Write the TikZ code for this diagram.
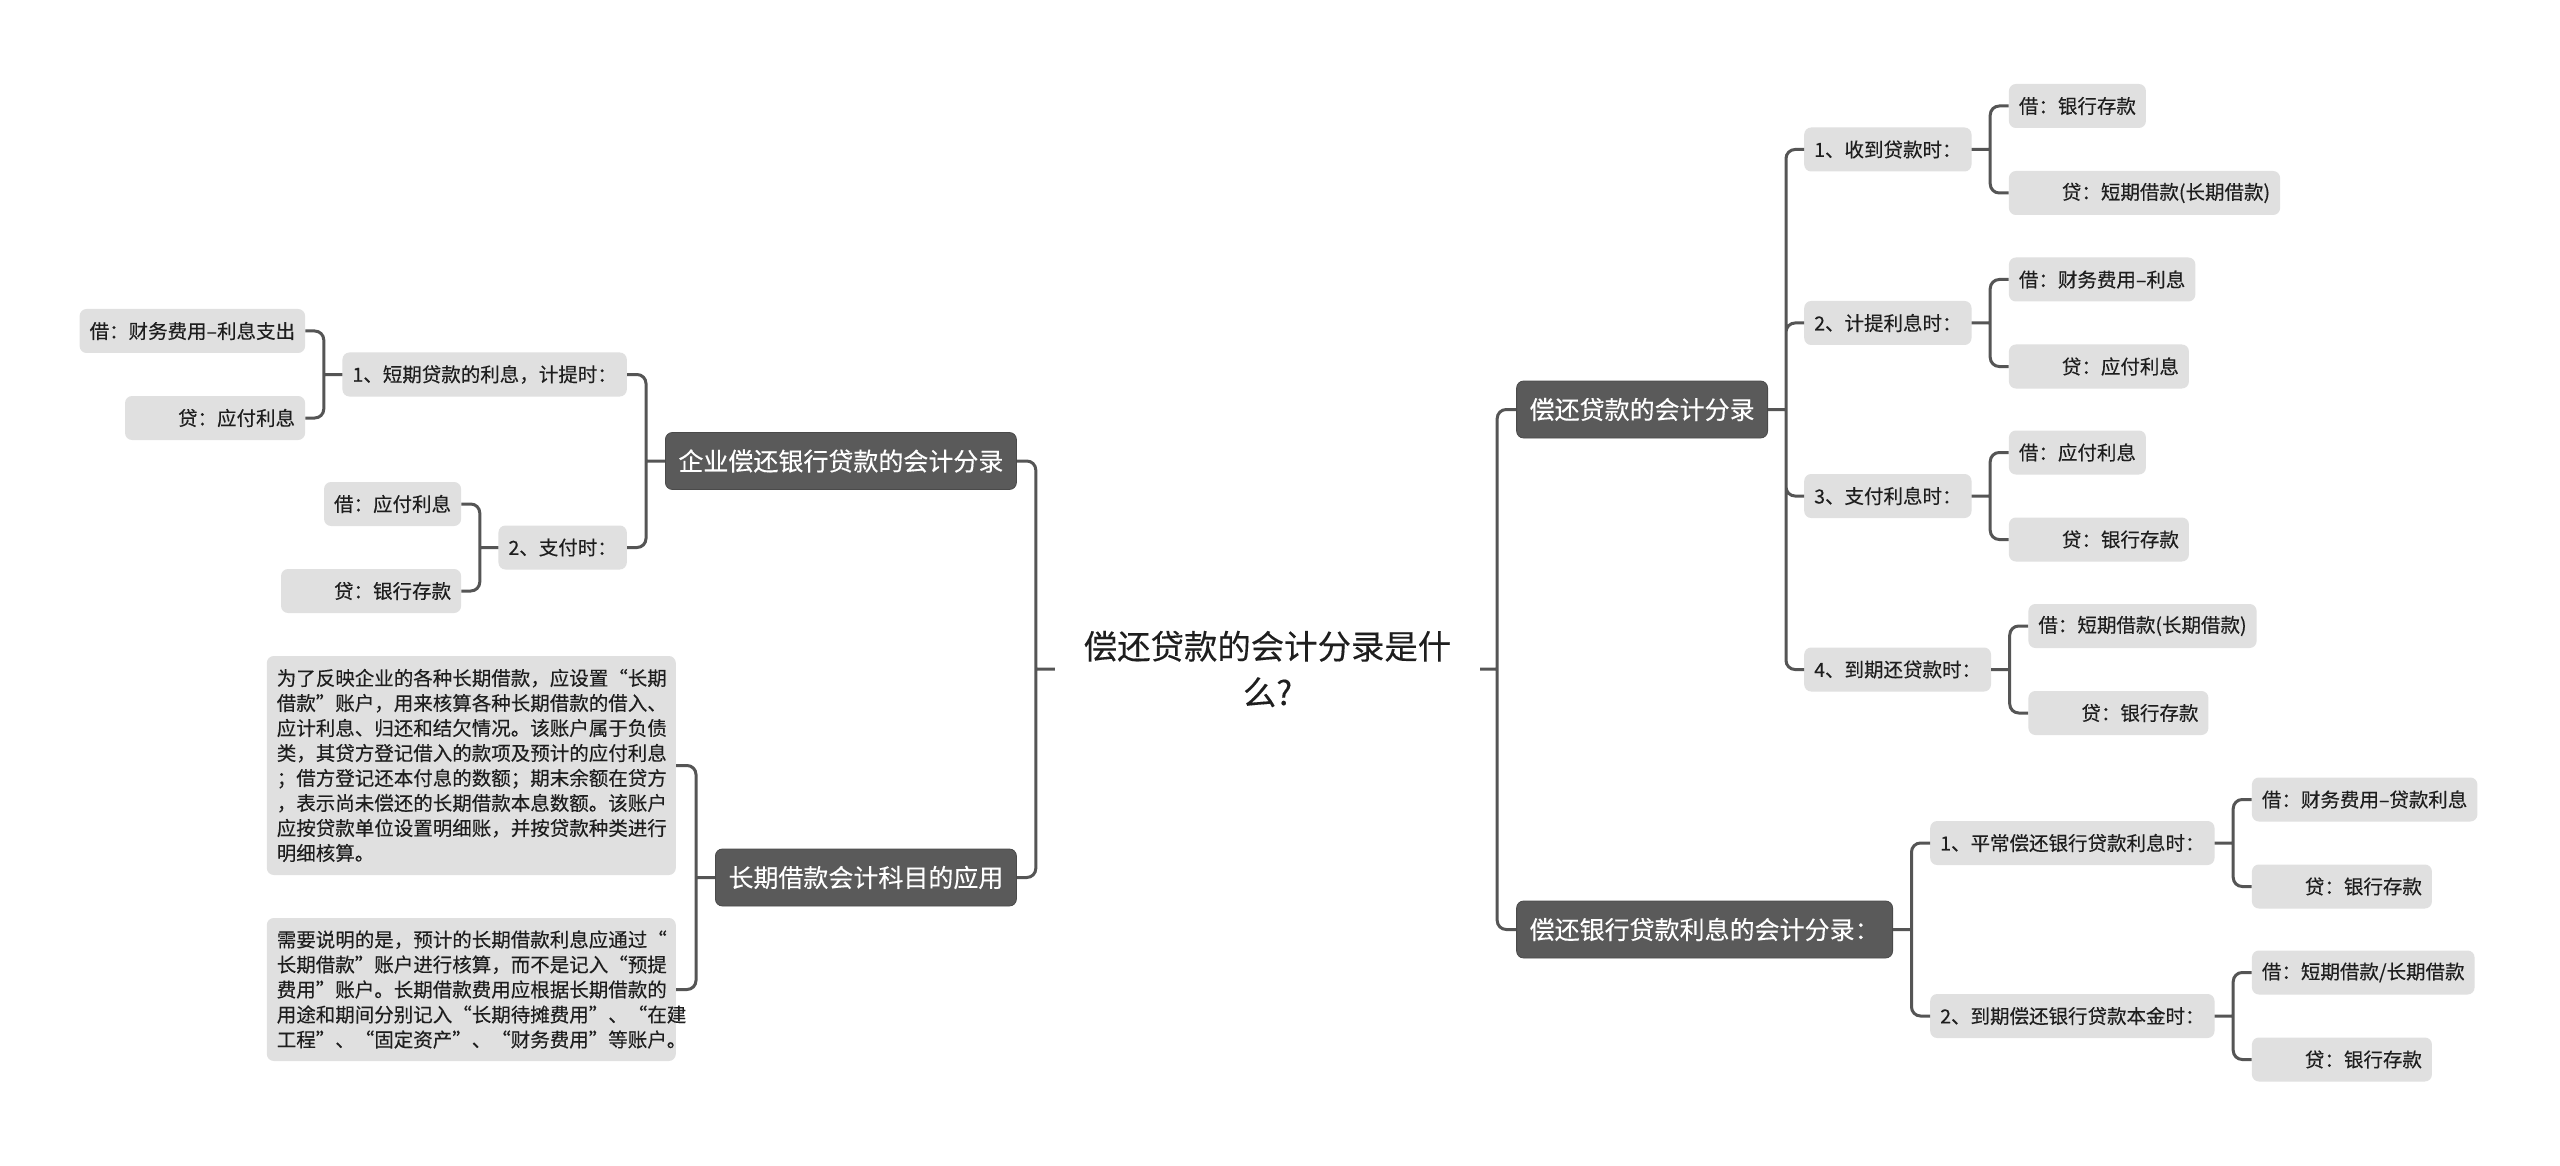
\documentclass[tikz,border=0pt]{standalone}
\usepackage{fontspec}
\setmainfont{Noto Sans CJK SC}[FakeBold=0.25]
\usetikzlibrary{positioning}
\definecolor{linkgray}{HTML}{555555}
\definecolor{boxgray}{HTML}{E0E0E0}
\definecolor{topfill}{HTML}{5A5A5A}
\definecolor{topdraw}{HTML}{4A4A4A}
\definecolor{inkgray}{HTML}{1E1E1E}

\begin{document}
\begin{tikzpicture}[x=1pt, y=-1pt,
  box/.style={fill=boxgray, rounded corners=7pt, text=inkgray, minimum height=44pt,
    inner xsep=10pt, inner ysep=0pt, font=\fontsize{19.5}{25}\selectfont},
  credit/.style={box, execute at begin node={\hspace*{43pt}}},
  note/.style={box, align=left, text width=389pt, inner xsep=10pt},
  topic/.style={fill=topfill, draw=topdraw, line width=0.8pt, rounded corners=7pt,
    text=white, minimum height=57pt, inner xsep=13pt, inner ysep=0pt,
    font=\fontsize{25}{30}\selectfont},
  rootbox/.style={text=inkgray, text width=370pt, align=center, inner xsep=27.5pt,
    font=\fontsize{33.4}{46}\selectfont},
  link/.style={draw=linkgray, line width=3pt, rounded corners=9pt}]
  \fill[white] (0,0) rectangle (2560,1166);
  \useasboundingbox (0,0) rectangle (2560,1166);
  % --- root ---
  \node[rootbox] (root) at (1267.5,669) {偿还贷款的会计分录是什\\么?};
  % --- left: 企业偿还银行贷款的会计分录 ---
  \node[topic, left=38pt of root, yshift=208pt] (lA) {企业偿还银行贷款的会计分录};
  \node[box, left=38pt of lA, yshift=86.5pt] (lA1) {1、短期贷款的利息，计提时：};
  \node[box, left=38pt of lA, yshift=-86.5pt] (lA2) {2、支付时：};
  \node[box, left=37pt of lA1, yshift=43.5pt] (lA1d) {借：财务费用–利息支出};
  \node[credit, left=37pt of lA1, yshift=-43.5pt] (lA1c) {贷：应付利息};
  \node[box, left=37pt of lA2, yshift=43.5pt] (lA2d) {借：应付利息};
  \node[credit, left=37pt of lA2, yshift=-43.5pt] (lA2c) {贷：银行存款};
  % --- left: 长期借款会计科目的应用 ---
  \node[topic, left=38pt of root, yshift=-208.5pt] (lB) {长期借款会计科目的应用};
  \node[note, minimum height=219pt, left=39pt of lB, yshift=112pt] (lB1)
       {为了反映企业的各种长期借款，应设置“长期\\借款”账户，用来核算各种长期借款的借入、\\
        应计利息、归还和结欠情况。该账户属于负债\\类，其贷方登记借入的款项及预计的应付利息\\
        ；借方登记还本付息的数额；期末余额在贷方\\，表示尚未偿还的长期借款本息数额。该账户\\
        应按贷款单位设置明细账，并按贷款种类进行\\明细核算。};
  \node[note, minimum height=143pt, left=39pt of lB, yshift=-112pt] (lB2)
       {需要说明的是，预计的长期借款利息应通过“\\长期借款”账户进行核算，而不是记入“预提\\
        费用”账户。长期借款费用应根据长期借款的\\用途和期间分别记入“长期待摊费用”、“在建\\
        工程”、“固定资产”、“财务费用”等账户。};
  % --- right: 偿还贷款的会计分录 ---
  \node[topic, right=36pt of root, yshift=259.5pt] (rA) {偿还贷款的会计分录};
  \node[box, right=36pt of rA, yshift=260pt] (rA1) {1、收到贷款时：};
  \node[box, right=36pt of rA, yshift=86.5pt] (rA2) {2、计提利息时：};
  \node[box, right=36pt of rA, yshift=-86.5pt] (rA3) {3、支付利息时：};
  \node[box, right=36pt of rA, yshift=-260pt] (rA4) {4、到期还贷款时：};
  \node[box, right=37pt of rA1, yshift=43.5pt] (rA1d) {借：银行存款};
  \node[credit, right=37pt of rA1, yshift=-43.5pt] (rA1c) {贷：短期借款(长期借款)};
  \node[box, right=37pt of rA2, yshift=43.5pt] (rA2d) {借：财务费用–利息};
  \node[credit, right=37pt of rA2, yshift=-43.5pt] (rA2c) {贷：应付利息};
  \node[box, right=37pt of rA3, yshift=43.5pt] (rA3d) {借：应付利息};
  \node[credit, right=37pt of rA3, yshift=-43.5pt] (rA3c) {贷：银行存款};
  \node[box, right=37pt of rA4, yshift=43.5pt] (rA4d) {借：短期借款(长期借款)};
  \node[credit, right=37pt of rA4, yshift=-43.5pt] (rA4c) {贷：银行存款};
  % --- right: 偿还银行贷款利息的会计分录 ---
  \node[topic, right=36pt of root, yshift=-260.5pt] (rB) {偿还银行贷款利息的会计分录：};
  \node[box, right=37pt of rB, yshift=86.5pt] (rB1) {1、平常偿还银行贷款利息时：};
  \node[box, right=37pt of rB, yshift=-86.5pt] (rB2) {2、到期偿还银行贷款本金时：};
  \node[box, right=37pt of rB1, yshift=43.5pt] (rB1d) {借：财务费用–贷款利息};
  \node[credit, right=37pt of rB1, yshift=-43.5pt] (rB1c) {贷：银行存款};
  \node[box, right=37pt of rB2, yshift=43.5pt] (rB2d) {借：短期借款/长期借款};
  \node[credit, right=37pt of rB2, yshift=-43.5pt] (rB2c) {贷：银行存款};
  % --- bracket points ---
  \coordinate (rootL) at ([xshift=-19pt]root.west);
  \coordinate (rootR) at ([xshift=17pt]root.east);
  \coordinate (lAj) at ([xshift=-19pt]lA.west);
  \coordinate (lA1j) at ([xshift=-18.5pt]lA1.west);
  \coordinate (lA2j) at ([xshift=-18.5pt]lA2.west);
  \coordinate (lBj) at ([xshift=-19pt]lB.west);
  \coordinate (rAj) at ([xshift=18pt]rA.east);
  \coordinate (rA1j) at ([xshift=18.5pt]rA1.east);
  \coordinate (rA2j) at ([xshift=18.5pt]rA2.east);
  \coordinate (rA3j) at ([xshift=18.5pt]rA3.east);
  \coordinate (rA4j) at ([xshift=18.5pt]rA4.east);
  \coordinate (rBj) at ([xshift=18.5pt]rB.east);
  \coordinate (rB1j) at ([xshift=18.5pt]rB1.east);
  \coordinate (rB2j) at ([xshift=18.5pt]rB2.east);
  % --- connectors ---
  \draw[link] (root.west) -- (rootL) (rootL) |- (lA.east) (rootL) |- (lB.east);
  \draw[link] (root.east) -- (rootR) (rootR) |- (rA.west) (rootR) |- (rB.west);
  \draw[link] (lA.west) -- (lAj) (lAj) |- (lA1.east) (lAj) |- (lA2.east);
  \draw[link] (lA1.west) -- (lA1j) (lA1j) |- (lA1d.east) (lA1j) |- (lA1c.east);
  \draw[link] (lA2.west) -- (lA2j) (lA2j) |- (lA2d.east) (lA2j) |- (lA2c.east);
  \draw[link] (lB.west) -- (lBj) (lBj) |- (lB1.east) (lBj) |- (lB2.east);
  \draw[link] (rA.east) -- (rAj) (rAj) |- (rA1.west) (rAj) |- (rA2.west)
              (rAj) |- (rA3.west) (rAj) |- (rA4.west);
  \draw[link] (rA1.east) -- (rA1j) (rA1j) |- (rA1d.west) (rA1j) |- (rA1c.west);
  \draw[link] (rA2.east) -- (rA2j) (rA2j) |- (rA2d.west) (rA2j) |- (rA2c.west);
  \draw[link] (rA3.east) -- (rA3j) (rA3j) |- (rA3d.west) (rA3j) |- (rA3c.west);
  \draw[link] (rA4.east) -- (rA4j) (rA4j) |- (rA4d.west) (rA4j) |- (rA4c.west);
  \draw[link] (rB.east) -- (rBj) (rBj) |- (rB1.west) (rBj) |- (rB2.west);
  \draw[link] (rB1.east) -- (rB1j) (rB1j) |- (rB1d.west) (rB1j) |- (rB1c.west);
  \draw[link] (rB2.east) -- (rB2j) (rB2j) |- (rB2d.west) (rB2j) |- (rB2c.west);
\end{tikzpicture}
\end{document}
